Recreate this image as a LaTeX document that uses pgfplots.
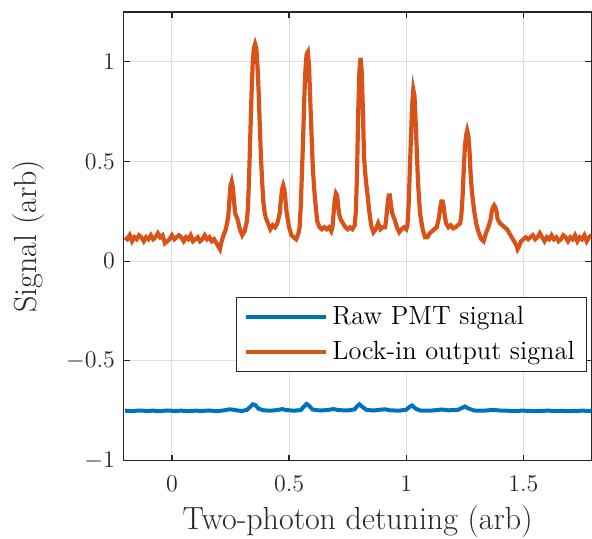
\documentclass[border=0pt]{standalone}
\usepackage{pgfplots}
\pgfplotsset{compat=1.18}
\definecolor{mblue}{RGB}{0,114,189}
\definecolor{morange}{RGB}{217,83,25}
\definecolor{axgray}{RGB}{38,38,38}
\definecolor{gridgray}{RGB}{222,222,222}
\begin{document}
\begin{tikzpicture}
\begin{axis}[
    scale only axis,
    width=234pt, height=224.5pt,
    xmin=-0.205, xmax=1.79,
    ymin=-1, ymax=1.25,
    xtick={0,0.5,1,1.5},
    ytick={-1,-0.5,0,0.5,1},
    tick align=inside,
    major tick length=3pt,
    axis line style={axgray, line width=0.6pt},
    tick style={axgray, line width=0.6pt},
    grid=major,
    grid style={gridgray, line width=0.5pt},
    ticklabel style={font=\fontsize{13}{15}\selectfont, text=axgray},
    xticklabel style={yshift=-4pt},
    yticklabel style={xshift=-1pt},
    xlabel={Two-photon detuning (arb)},
    ylabel={Signal (arb)},
    label style={font=\fontsize{16}{18}\selectfont, text=axgray},
    xlabel style={at={(axis description cs:0.5,-0.137)}, anchor=center},
    ylabel style={at={(axis description cs:-0.203,0.5)}, anchor=center},
    legend style={at={(0.991,0.365)}, anchor=north east, draw=axgray,
        line width=0.5pt, fill=white, font=\fontsize{13.2}{15}\selectfont,
        inner xsep=4pt, inner ysep=2.5pt, row sep=2.8pt},
    legend cell align=left,
    legend image code/.code={\draw[#1] (0pt,0pt) -- (40pt,0pt);},
]
\addplot[mblue, line width=2pt] coordinates {
(-0.20,-0.750) (-0.17,-0.752) (-0.14,-0.749) (-0.11,-0.751) (-0.08,-0.750)
(-0.05,-0.752) (-0.02,-0.749) (0.01,-0.751) (0.04,-0.750) (0.07,-0.752)
(0.10,-0.750) (0.13,-0.751) (0.16,-0.749) (0.19,-0.752) (0.21,-0.750)
(0.23,-0.747) (0.245,-0.743) (0.26,-0.745) (0.28,-0.749) (0.30,-0.751)
(0.32,-0.746) (0.335,-0.730) (0.345,-0.718) (0.355,-0.721) (0.37,-0.740)
(0.39,-0.748) (0.42,-0.750) (0.45,-0.747) (0.47,-0.742) (0.49,-0.747)
(0.52,-0.750) (0.55,-0.747) (0.565,-0.727) (0.575,-0.716) (0.585,-0.725)
(0.60,-0.744) (0.63,-0.749) (0.66,-0.747) (0.69,-0.742) (0.71,-0.747)
(0.75,-0.749) (0.78,-0.743) (0.79,-0.728) (0.80,-0.718) (0.81,-0.728)
(0.83,-0.746) (0.86,-0.749) (0.89,-0.745) (0.91,-0.743) (0.93,-0.748)
(0.97,-0.750) (1.00,-0.745) (1.015,-0.730) (1.025,-0.724) (1.04,-0.740)
(1.06,-0.749) (1.10,-0.750) (1.13,-0.747) (1.15,-0.744) (1.18,-0.748)
(1.22,-0.746) (1.24,-0.735) (1.25,-0.729) (1.265,-0.739) (1.29,-0.749)
(1.33,-0.750) (1.37,-0.746) (1.40,-0.749) (1.45,-0.751) (1.50,-0.750)
(1.55,-0.752) (1.60,-0.750) (1.65,-0.751) (1.70,-0.752) (1.75,-0.750)
(1.79,-0.751)
};
\addlegendentry{Raw PMT signal}
\addplot[morange, line width=2.1pt] coordinates {
(-0.20,0.12) (-0.19,0.11) (-0.18,0.13) (-0.17,0.10) (-0.16,0.12) (-0.15,0.11)
(-0.14,0.13) (-0.13,0.12) (-0.12,0.10) (-0.11,0.12) (-0.10,0.11) (-0.09,0.13)
(-0.08,0.11) (-0.07,0.12) (-0.06,0.14) (-0.05,0.12) (-0.04,0.13) (-0.03,0.09)
(-0.02,0.10) (-0.01,0.11) (0.00,0.13) (0.01,0.11) (0.02,0.12) (0.03,0.13)
(0.04,0.12) (0.05,0.10) (0.06,0.12) (0.07,0.11) (0.08,0.13) (0.09,0.10)
(0.10,0.11) (0.11,0.12) (0.12,0.10) (0.13,0.11) (0.14,0.13) (0.15,0.11)
(0.16,0.12) (0.17,0.10) (0.18,0.11) (0.19,0.09) (0.20,0.07) (0.205,0.06)
(0.21,0.09) (0.22,0.13) (0.23,0.16) (0.24,0.22) (0.245,0.30) (0.25,0.38)
(0.255,0.40) (0.26,0.37) (0.265,0.30) (0.27,0.24) (0.28,0.21) (0.29,0.16)
(0.30,0.13) (0.31,0.15) (0.32,0.20) (0.325,0.28) (0.33,0.45) (0.335,0.65)
(0.34,0.85) (0.345,1.00) (0.35,1.07) (0.355,1.09) (0.36,1.07) (0.365,0.98)
(0.37,0.85) (0.375,0.68) (0.38,0.52) (0.385,0.40) (0.39,0.30) (0.395,0.25)
(0.40,0.22) (0.41,0.19) (0.42,0.16) (0.43,0.18) (0.44,0.17) (0.45,0.19)
(0.46,0.24) (0.465,0.31) (0.47,0.36) (0.475,0.38) (0.48,0.36) (0.485,0.30)
(0.49,0.24) (0.50,0.17) (0.51,0.13) (0.52,0.12) (0.53,0.11) (0.54,0.14)
(0.545,0.17) (0.55,0.28) (0.555,0.45) (0.56,0.62) (0.565,0.82) (0.57,0.97)
(0.575,1.04) (0.58,1.05) (0.585,0.98) (0.59,0.82) (0.595,0.66) (0.60,0.50)
(0.605,0.40) (0.61,0.32) (0.62,0.20) (0.63,0.17) (0.64,0.16) (0.65,0.17)
(0.66,0.16) (0.67,0.17) (0.68,0.15) (0.685,0.17) (0.69,0.24) (0.695,0.31)
(0.70,0.34) (0.705,0.33) (0.71,0.27) (0.715,0.23) (0.72,0.21) (0.73,0.19)
(0.74,0.17) (0.75,0.16) (0.76,0.17) (0.77,0.16) (0.78,0.18) (0.785,0.25)
(0.79,0.45) (0.795,0.75) (0.80,0.95) (0.805,1.02) (0.81,0.95) (0.815,0.75)
(0.82,0.52) (0.825,0.44) (0.83,0.38) (0.835,0.33) (0.84,0.27) (0.85,0.18)
(0.86,0.145) (0.87,0.16) (0.88,0.19) (0.89,0.16) (0.90,0.17) (0.91,0.17)
(0.915,0.22) (0.92,0.28) (0.925,0.33) (0.93,0.33) (0.935,0.28) (0.94,0.24)
(0.95,0.21) (0.96,0.17) (0.97,0.145) (0.98,0.16) (0.99,0.17) (1.00,0.16)
(1.005,0.18) (1.01,0.28) (1.015,0.45) (1.02,0.62) (1.025,0.78) (1.03,0.86)
(1.035,0.83) (1.04,0.70) (1.045,0.55) (1.05,0.40) (1.055,0.30) (1.06,0.23)
(1.07,0.16) (1.08,0.12) (1.09,0.12) (1.10,0.14) (1.11,0.15) (1.12,0.16)
(1.13,0.17) (1.14,0.22) (1.145,0.27) (1.15,0.30) (1.155,0.30) (1.16,0.27)
(1.165,0.22) (1.17,0.19) (1.18,0.17) (1.19,0.18) (1.20,0.165) (1.21,0.17)
(1.22,0.18) (1.23,0.19) (1.235,0.23) (1.24,0.32) (1.245,0.45) (1.25,0.57)
(1.255,0.63) (1.26,0.655) (1.265,0.63) (1.27,0.55) (1.275,0.43) (1.28,0.35)
(1.285,0.30) (1.29,0.25) (1.30,0.18) (1.31,0.14) (1.32,0.11) (1.33,0.10)
(1.34,0.14) (1.35,0.17) (1.36,0.21) (1.365,0.25) (1.37,0.27) (1.375,0.28)
(1.38,0.27) (1.385,0.25) (1.39,0.21) (1.40,0.19) (1.41,0.18) (1.42,0.17)
(1.43,0.16) (1.44,0.14) (1.45,0.12) (1.46,0.10) (1.47,0.08) (1.475,0.06)
(1.48,0.07) (1.49,0.10) (1.50,0.11) (1.51,0.12) (1.52,0.11) (1.53,0.12)
(1.54,0.13) (1.55,0.11) (1.56,0.12) (1.57,0.14) (1.58,0.12) (1.59,0.10)
(1.60,0.12) (1.61,0.11) (1.62,0.13) (1.63,0.11) (1.64,0.12) (1.65,0.10)
(1.66,0.11) (1.67,0.13) (1.68,0.12) (1.69,0.10) (1.70,0.12) (1.71,0.11)
(1.72,0.13) (1.73,0.10) (1.74,0.12) (1.75,0.11) (1.76,0.13) (1.77,0.10)
(1.78,0.12) (1.79,0.13)
};
\addlegendentry{Lock-in output signal}
\end{axis}
\pgfresetboundingbox
\path (-62pt,-39pt) rectangle (234.3pt,230.5pt);
\end{tikzpicture}
\end{document}
